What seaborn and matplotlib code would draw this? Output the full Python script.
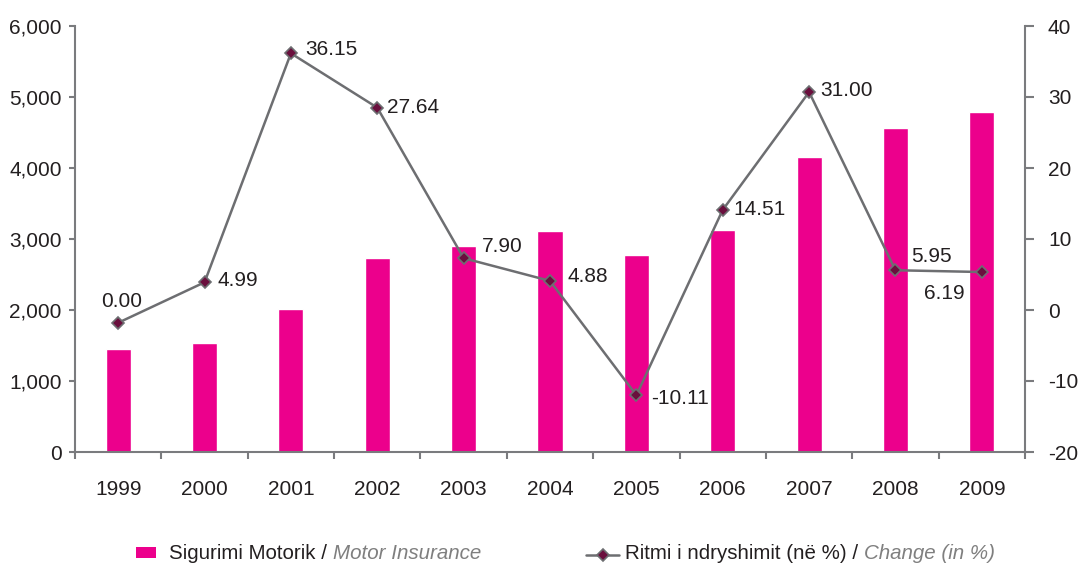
import matplotlib
matplotlib.use("Agg")
import matplotlib.pyplot as plt
import numpy as np
import seaborn as sns
from matplotlib.lines import Line2D
from matplotlib.patches import Rectangle
from matplotlib.ticker import FuncFormatter

# data
years = ["1999", "2000", "2001", "2002", "2003", "2004",
         "2005", "2006", "2007", "2008", "2009"]
motor_premiums = [1451, 1539, 2014, 2732, 2901, 3113, 2775, 3127, 4155, 4563, 4789]
change_pct = [-1.8, 3.9, 36.15, 28.5, 7.3, 4.1, -12.0, 14.1, 30.7, 5.6, 5.35]
change_labels = ["0.00", "4.99", "36.15", "27.64", "7.90", "4.88",
                 "-10.11", "14.51", "31.00", "5.95", "6.19"]

# where each data label sits relative to its point (pixels) + alignment
label_pos = [(3, 21, "center"), (13, 2, "left"), (14, 4, "left"), (10, 0, "left"),
             (18, 12, "left"), (17, 4, "left"), (15, -3, "left"), (11, 0, "left"),
             (11, 2, "left"), (16, 14, "left"), (-17, -21, "right")]

PINK = "#EC008C"
LINE_GREY = "#6D6E71"
MARKER = "#6A0F3D"
AXIS_GREY = "#7A7B7E"
TEXT = "#231F20"
ITALIC_GREY = "#7F7F7F"
FS = 15

sns.set_theme(style="ticks")
plt.rcParams["font.family"] = ["Liberation Sans", "DejaVu Sans"]
plt.rcParams["axes.unicode_minus"] = False

W, H = 1082, 565
fig = plt.figure(figsize=(W / 100, H / 100), dpi=100)
ax = fig.add_axes([75 / W, 1 - 452 / H, 950 / W, 426 / H])

sns.barplot(x=years, y=motor_premiums, color=PINK, saturation=1, width=0.29, ax=ax)
ax.set_xlim(-0.5, len(years) - 0.5)
ax.set_ylim(0, 6000)
ax.set_yticks(range(0, 6001, 1000))
ax.yaxis.set_major_formatter(FuncFormatter(lambda v, p: f"{v:,.0f}"))
ax.set_xlabel("")
ax.set_ylabel("")
ax.set_xticks(np.arange(len(years) + 1) - 0.5, minor=True)
ax.tick_params(axis="x", which="major", length=0, pad=20, labelsize=FS, labelcolor=TEXT)
ax.tick_params(axis="x", which="minor", length=5, width=1.5, color=AXIS_GREY, direction="out")
ax.tick_params(axis="y", length=4.5, width=1.5, color=AXIS_GREY, pad=5, labelsize=FS, labelcolor=TEXT)
for s in ["top", "right"]:
    ax.spines[s].set_visible(False)
for s in ["left", "bottom"]:
    ax.spines[s].set_color(AXIS_GREY)
    ax.spines[s].set_linewidth(1.5)

ax2 = ax.twinx()
sns.lineplot(x=np.arange(len(years)), y=change_pct, ax=ax2, sort=False, legend=False,
             color=LINE_GREY, linewidth=1.8, marker="D", markersize=6.5,
             markerfacecolor=MARKER, markeredgecolor=LINE_GREY, markeredgewidth=1.2)
ax2.set_xlim(-0.5, len(years) - 0.5)
ax2.set_ylim(-20, 40)
ax2.set_yticks(range(-20, 41, 10))
ax2.set_ylabel("")
ax2.tick_params(axis="y", length=6.5, width=1.5, color=AXIS_GREY, pad=10, labelsize=FS, labelcolor=TEXT)
for s in ["top", "left", "bottom"]:
    ax2.spines[s].set_visible(False)
ax2.spines["right"].set_color(AXIS_GREY)
ax2.spines["right"].set_linewidth(1.5)

for i, (v, lbl) in enumerate(zip(change_pct, change_labels)):
    dx, dy, ha = label_pos[i]
    ax2.annotate(lbl, (i, v), xytext=(dx, dy), textcoords="offset pixels",
                 ha=ha, va="center", fontsize=FS, color=TEXT)

# legend drawn by hand so each label can mix upright and italic text
ly = 1 - 552.5 / H
base = 1 - 559 / H
LFS = 14.8
fig.add_artist(Rectangle((136 / W, 1 - 558 / H), 20 / W, 11 / H,
                         transform=fig.transFigure, color=PINK, lw=0))
fig.add_artist(Line2D([586 / W, 619 / W], [ly - 2 / H, ly - 2 / H], transform=fig.transFigure,
                      color=LINE_GREY, lw=1.8))
fig.add_artist(Line2D([602.5 / W], [ly - 2 / H], transform=fig.transFigure, marker="D",
                      markersize=6.5, markerfacecolor=MARKER, markeredgecolor=LINE_GREY,
                      markeredgewidth=1.2))

t1 = fig.text(169 / W, base, "Sigurimi Motorik /", fontsize=LFS, color=TEXT, va="baseline")
t2 = fig.text(625 / W, base, "Ritmi i ndryshimit (në %) /", fontsize=LFS, color=TEXT, va="baseline")
fig.canvas.draw()
r = fig.canvas.get_renderer()
for t, s in [(t1, "Motor Insurance"), (t2, "Change (in %)")]:
    bb = t.get_window_extent(r)
    fig.text((bb.x1 + 6) / W, base, s, fontsize=LFS, color=ITALIC_GREY,
             style="italic", va="baseline")

fig.savefig("out.png", dpi=100)
